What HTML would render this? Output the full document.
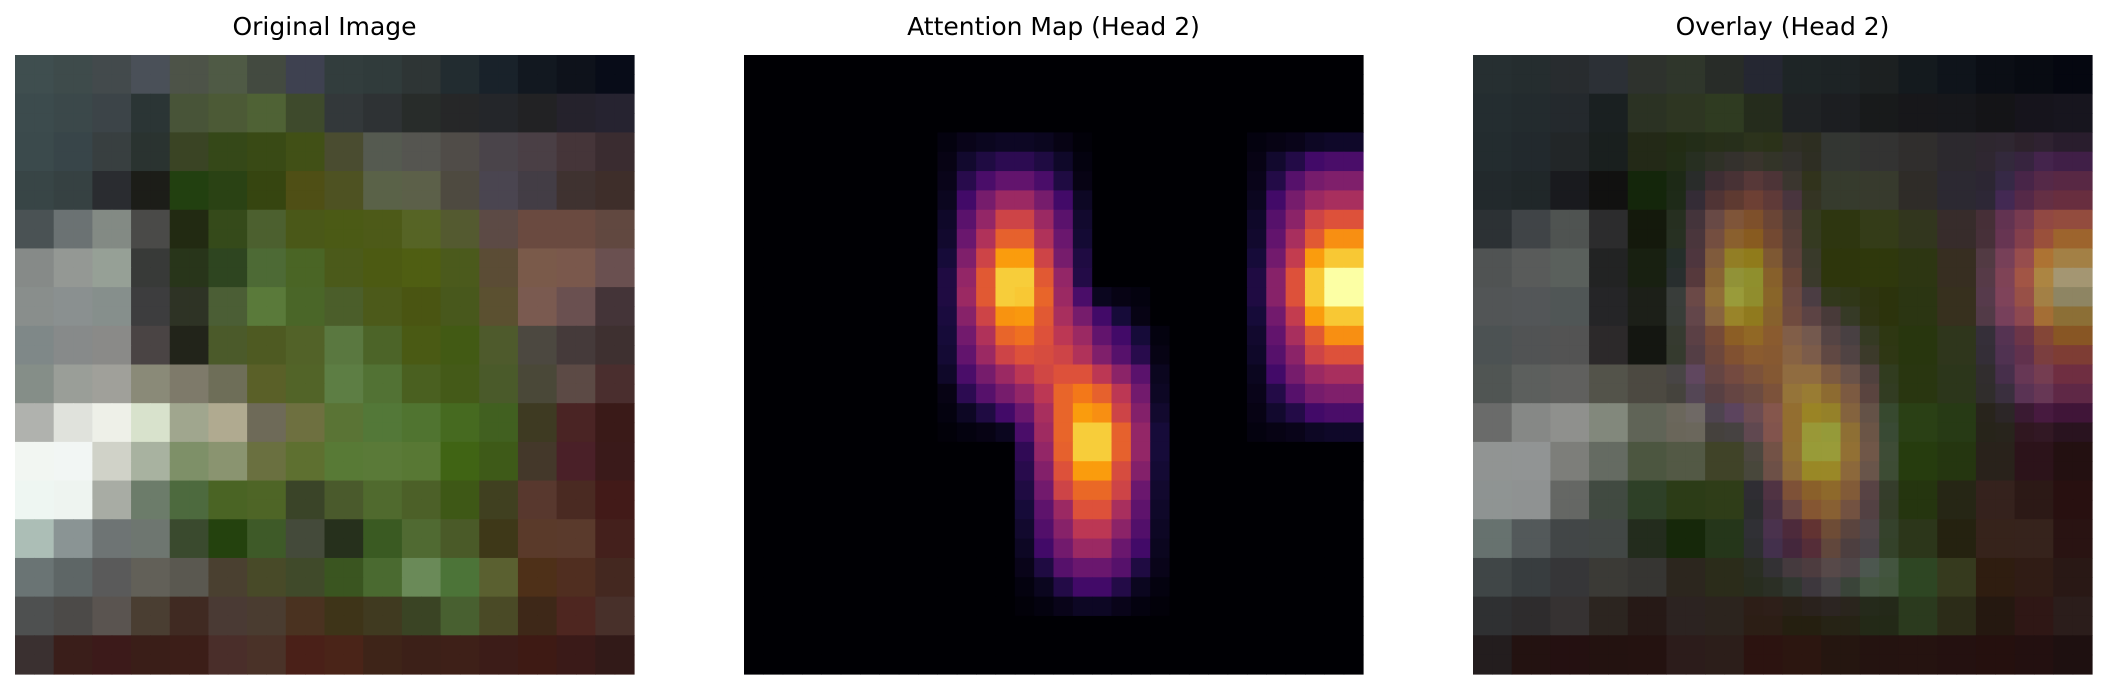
<!DOCTYPE html>
<html><head><meta charset="utf-8"><style>html,body{margin:0;padding:0;background:#fff;}svg{display:block;}</style></head>
<body>
<svg id="fig" width="2106" height="688" xmlns="http://www.w3.org/2000/svg" font-family="DejaVu Sans, Liberation Sans, sans-serif">
<rect width="2106" height="688" fill="#fff"/>
<text x="324.5" y="35" font-size="25" text-anchor="middle" fill="#000">Original Image</text>
<text x="1053.5" y="35" font-size="25" text-anchor="middle" fill="#000">Attention Map (Head 2)</text>
<text x="1782.5" y="35" font-size="25" text-anchor="middle" fill="#000">Overlay (Head 2)</text>
<g id="p1"></g>
<g id="p2"></g>
<g id="p3"></g>
</svg>
<script>
// Original image, 16x16 blocks (each block = 2x2 of the 32x32 grid)
const origRows = [
"3f4e4f 3e4b4b 434a4c 4a5058 4d5348 4f5a45 434a40 3e4150 323d3d 303b3b 2e3535 222c30 19222a 121820 0e121b 080c18",
"3c4b4d 3b484a 3c4448 2b3535 485438 4c5a36 4f6235 3e4a2c 33383a 2e3234 282c2a 262728 24262a 222224 25222c 262330",
"3b4a4c 384549 383f40 2a3330 3a4424 354818 394a15 415016 4a4c30 555a50 555550 504c48 4a444a 4a3f45 453539 3a2c30",
"384546 364142 2a2c30 1c1d18 224010 2a4214 364510 4f4f15 4e5222 5a6248 5c6049 4e4a40 4a4550 433d45 3f3230 3e2e2a",
"4a5254 6b7273 838a84 4a4a48 222a12 354a1a 4c602f 4a5818 4b5a15 4d5a18 566425 545a30 5c4a45 6a4a40 6a4a40 614840",
"868a88 949894 96a096 383a38 28351a 2e4520 4d6a35 4a6525 4b5a1a 4c5a12 4f5e12 4b5a1c 5b4c35 7a5a4a 7a584c 6a5050",
"898e8c 8a9090 868f8c 3d3d3e 2e3325 4b5e35 5a7a3a 4a6628 4b5e2a 4c5a1a 4a5512 48581c 5b5030 7a5a50 6a5050 443438",
"7f8888 878a8a 8a8a88 4a4444 22241a 4b5a2a 4e5a22 526228 5a7840 4c6428 4a5a14 425a14 4e5a2c 4c4840 453a3a 3e3030",
"858e88 9a9e98 a0a09a 8a8a78 7e7a6a 6e6e58 5a6028 526428 5d7e44 527234 4a6020 445a18 4a5a2a 4a4838 5c4a45 4a2e2e",
"b0b2ae e0e2dc eef0e8 d8e2cc a0a68e b0aa90 6e6a58 6e7040 5a7435 537838 507430 466a20 416020 3e3a22 4a2424 3a1a18",
"f2f6f2 f2f6f4 d0d2c8 a8b2a0 7e9068 8a9470 6a7040 5e7030 587a36 5a7a38 587834 406414 3e5a18 44382a 4a2028 3a1a1a",
"eef6f2 eef4f0 a8aca4 6c7c6a 4d6a3e 4a6424 4e6526 3a4428 4a5a2c 506a2e 4c6028 3e5816 404020 58382e 4a2a22 421a18",
"acbeb6 8a9494 6e7474 6e7670 3a4a2e 24420e 3e5a28 444a3a 26301c 3a5a22 506a32 4a5a28 3e3818 5a3a2a 5a3a2c 44201c",
"6a7474 5e6666 5a5a5a 626058 5a5850 4a4030 484a28 404a2a 3a5520 4a6a30 6a8a58 4c7438 5a6030 4e3018 502e20 442820",
"4e5050 4c4a48 5a5450 4a3e32 402a22 4a3a34 4a3c30 4a3220 3e3418 403a20 3a4424 486030 4a4a26 3e2818 4e2620 48302a",
"3a3030 3a1e1a 3c1a1a 3a1e18 3c1e18 4a2e2a 4a3228 4a2018 4a2418 3e2418 3c2018 3e2018 3c1c18 3e1a14 3a1a18 321a18"
];
// Attention (32x32, sparse): [row, startCol, values...]
const attnRows = [
[4,10,[.02,.04,.05,.06,.06,.05,.03,.01]],
[5,10,[.03,.08,.12,.15,.15,.12,.07,.02]],
[6,10,[.04,.14,.22,.28,.28,.22,.12,.03]],
[7,10,[.05,.2,.33,.42,.42,.33,.2,.06]],
[8,10,[.07,.26,.4,.55,.55,.42,.26,.08]],
[9,10,[.08,.3,.47,.64,.64,.47,.3,.09]],
[10,10,[.1,.35,.55,.78,.78,.55,.33,.12]],
[11,10,[.12,.4,.62,.88,.88,.62,.4,.13]],
[12,10,[.12,.42,.62,.88,.87,.65,.42,.22,.05,.03,.02]],
[13,10,[.11,.37,.55,.76,.77,.62,.45,.33,.2,.1,.03]],
[14,10,[.1,.32,.47,.65,.68,.6,.5,.42,.28,.2,.1,.02]],
[15,10,[.09,.28,.42,.55,.6,.58,.55,.47,.35,.25,.14,.03]],
[16,10,[.07,.22,.33,.42,.5,.56,.6,.6,.5,.38,.26,.05]],
[17,10,[.03,.15,.25,.33,.4,.5,.65,.7,.64,.5,.32,.06]],
[18,10,[.02,.06,.12,.2,.3,.45,.65,.78,.75,.55,.36,.08]],
[19,10,[.01,.02,.03,.05,.22,.43,.65,.88,.88,.64,.4,.1]],
[20,14,[.16,.4,.64,.88,.88,.64,.4,.1]],
[21,14,[.14,.36,.6,.78,.78,.58,.36,.09]],
[22,14,[.12,.32,.55,.66,.66,.55,.3,.08]],
[23,14,[.1,.27,.42,.6,.6,.45,.27,.07]],
[24,14,[.08,.24,.37,.5,.5,.38,.24,.06]],
[25,14,[.06,.2,.32,.42,.42,.3,.2,.05]],
[26,14,[.04,.12,.25,.3,.3,.25,.12,.04]],
[27,14,[.02,.05,.13,.2,.2,.13,.05,.02]],
[28,14,[.01,.02,.04,.06,.06,.04,.02,.01]],
[4,26,[.02,.03,.04,.06,.07,.07]],
[5,26,[.03,.08,.13,.2,.22,.22]],
[6,26,[.04,.13,.25,.33,.35,.35]],
[7,26,[.05,.2,.33,.42,.45,.45]],
[8,26,[.07,.25,.38,.55,.6,.6]],
[9,26,[.08,.28,.45,.62,.75,.75]],
[10,26,[.1,.32,.52,.78,.87,.87]],
[11,26,[.12,.37,.6,.87,1,1]],
[12,26,[.12,.37,.6,.87,1,1]],
[13,26,[.1,.32,.52,.78,.87,.87]],
[14,26,[.08,.28,.45,.62,.75,.75]],
[15,26,[.07,.25,.38,.55,.6,.6]],
[16,26,[.05,.2,.33,.42,.45,.45]],
[17,26,[.04,.13,.25,.33,.35,.35]],
[18,26,[.03,.08,.13,.2,.22,.22]],
[19,26,[.02,.03,.04,.06,.07,.07]]
];
const infernoStops = ["000004","160b39","420a68","6a176e","932667","bc3754","dd513a","f37819","fca50a","f6d746","fcffa4"];
const overlayAlpha = 0.4;

const NS = "http://www.w3.org/2000/svg";
const panelX = [15, 744, 1473], panelY = 55, panelSize = 619, N = 32;
const cell = panelSize / N;
function hex(h){return [parseInt(h.slice(0,2),16),parseInt(h.slice(2,4),16),parseInt(h.slice(4,6),16)];}
function inferno(v){v=Math.max(0,Math.min(1,v));const t=v*10,i=Math.min(9,Math.floor(t)),f=t-i;
  const a=hex(infernoStops[i]),b=hex(infernoStops[i+1]);return a.map((c,k)=>c+(b[k]-c)*f);}
function rgb(c){return "rgb("+c.map(x=>Math.round(x)).join(",")+")";}
function xScale(p,col){return panelX[p]+col*cell;}
function yScale(row){return panelY+row*cell;}
const orig = origRows.map(r=>r.split(" ").map(hex));
const attn = [];
for(let r=0;r<N;r++){attn.push(new Array(N).fill(0));}
attnRows.forEach(([r,c0,vals])=>vals.forEach((v,k)=>{attn[r][c0+k]=v;}));
function addCell(g,p,r,c,fill){
  const el=document.createElementNS(NS,"rect");
  el.setAttribute("x",xScale(p,c).toFixed(2));
  el.setAttribute("y",yScale(r).toFixed(2));
  el.setAttribute("width",(cell+0.6).toFixed(2));
  el.setAttribute("height",(cell+0.6).toFixed(2));
  el.setAttribute("fill",fill);
  
  
  g.appendChild(el);
}
const g1=document.getElementById("p1"),g2=document.getElementById("p2"),g3=document.getElementById("p3");
for(let r=0;r<N;r++){for(let c=0;c<N;c++){
  const o=orig[r>>1][c>>1];
  const a=inferno(attn[r][c]);
  addCell(g1,0,r,c,rgb(o));
  addCell(g2,1,r,c,rgb(a));
  addCell(g3,2,r,c,rgb(o.map((x,k)=>x*(1-overlayAlpha)+a[k]*overlayAlpha)));
}}
</script>
</body></html>
